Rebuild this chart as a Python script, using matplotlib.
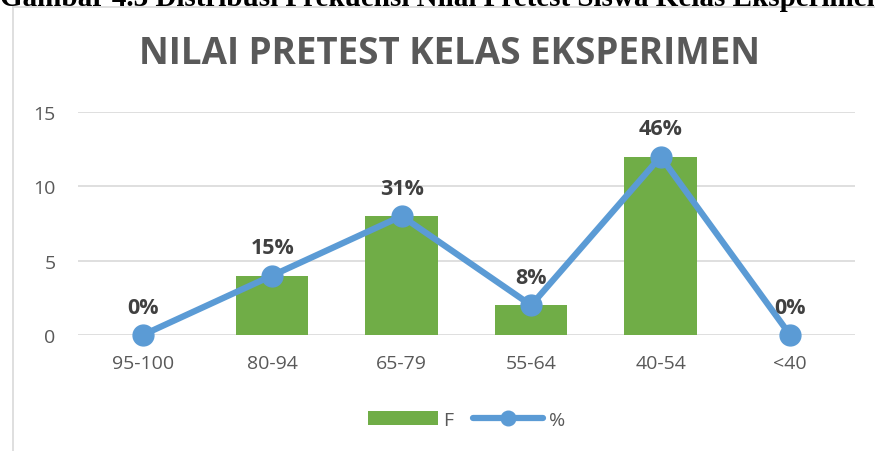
import matplotlib.pyplot as plt
from matplotlib.lines import Line2D

categories = ['95-100', '80-94', '65-79', '55-64', '40-54', '<40']
freq = [0, 4, 8, 2, 12, 0]
pct_labels = ['0%', '15%', '31%', '8%', '46%', '0%']

green = '#70AD47'
blue = '#5B9BD5'
grey = '#595959'

fig = plt.figure(figsize=(8.75, 4.52), dpi=100)
ax = fig.add_axes([0.0891, 0.2566, 0.8879, 0.4934])

x = list(range(len(categories)))
bars = ax.bar(x, freq, width=0.56, color=green, label='F', zorder=2)
line, = ax.plot(x, freq, color=blue, lw=4.5, marker='o', markersize=15,
                solid_capstyle='round', label='%', zorder=3, clip_on=False)

for xi, yi, lab in zip(x, freq, pct_labels):
    ax.annotate(lab, (xi, yi), xytext=(0, 20), textcoords='offset points',
                ha='center', va='center', fontsize=15.5, fontweight='bold',
                color='#404040', family='Open Sans', zorder=4)

ax.set_xlim(-0.5, 5.5)
ax.set_ylim(0, 15)
ax.set_yticks([0, 5, 10, 15])
ax.set_xticks(x)
ax.set_xticklabels(categories)
ax.grid(axis='y', color='#d9d9d9', lw=1.2, zorder=0)
ax.set_axisbelow(True)
for s in ax.spines.values():
    s.set_visible(False)
ax.tick_params(length=0, labelsize=14, labelcolor=grey)
ax.tick_params(axis='x', pad=14)
ax.tick_params(axis='y', pad=16)
for t in ax.get_xticklabels() + ax.get_yticklabels():
    t.set_family('Open Sans')

fig.text(0.514, 0.88, 'NILAI PRETEST KELAS EKSPERIMEN', ha='center', va='center',
         fontsize=26.5, fontweight='bold', color=grey, family='Open Sans')

# legend
leg = ax.legend([bars, line], ['F', '%'], loc='center', bbox_to_anchor=(0.5, -0.38),
                ncol=2, frameon=False, handlelength=3.6, handletextpad=0.3,
                columnspacing=1.0, markerscale=0.7,
                prop={'family': 'Open Sans', 'size': 14})
for t in leg.get_texts():
    t.set_color(grey)

# chart border (cut by the page)
fig.add_artist(Line2D([13 / 875, 13 / 875], [0, 1 - 8 / 452], color='#d9d9d9', lw=1.2))
fig.add_artist(Line2D([13 / 875, 1], [1 - 8 / 452, 1 - 8 / 452], color='#d9d9d9', lw=1.2))

# caption from the page above, cut off at the top
fig.text(0.0, 1 - 6 / 452, 'Gambar 4.3 Distribusi Frekuensi Nilai Pretest Siswa Kelas Eksperimen',
         ha='left', va='baseline', fontsize=21, fontweight='bold',
         family='Liberation Serif', color='black')

fig.savefig('out.png', dpi=100)
